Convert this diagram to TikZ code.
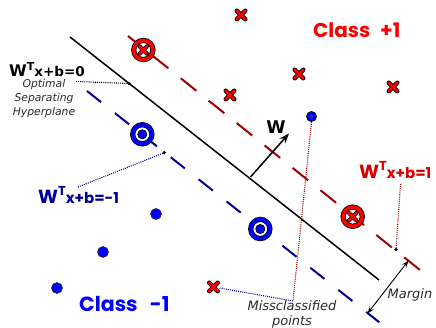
\documentclass[tikz,border=0pt]{standalone}
\usepackage{fontspec}
\setmainfont{DejaVu Sans}
\newfontfamily\comicfont{Poppins}
\usetikzlibrary{arrows.meta}
\definecolor{xred}{HTML}{FF0000}
\definecolor{dred}{HTML}{A00000}
\definecolor{xblue}{HTML}{0000FF}
\definecolor{dblue}{HTML}{000099}
\definecolor{txtgray}{HTML}{2A2A2A}
\tikzset{
  xmark/.pic={
    \draw[black,line width=4.4pt,line cap=round] (-4.3,-4.3)--(4.3,4.3) (-4.3,4.3)--(4.3,-4.3);
    \draw[xred,line width=2.8pt,line cap=round] (-4.3,-4.3)--(4.3,4.3) (-4.3,4.3)--(4.3,-4.3);
  },
  ringx/.pic={
    \draw[black,fill=white,line width=5.2pt] (0,0) circle (9.6);
    \draw[xred,line width=3.6pt] (0,0) circle (9.6);
    \draw[black,line width=4pt,line cap=round] (-3.8,-3.8)--(3.8,3.8) (-3.8,3.8)--(3.8,-3.8);
    \draw[xred,line width=2.6pt,line cap=round] (-3.8,-3.8)--(3.8,3.8) (-3.8,3.8)--(3.8,-3.8);
  },
  ringo/.pic={
    \draw[black,fill=white,line width=5.2pt] (0,0) circle (9.6);
    \draw[xblue,line width=3.6pt] (0,0) circle (9.6);
    \draw[black,fill=xblue,line width=0.7pt] (0,0) circle (4.6);
  },
  bdot/.style={circle,draw=black!80,line width=0.6pt,fill=xblue,inner sep=0pt,minimum size=11pt},
  sepline/.style={black,line width=1.5pt},
  redline/.style={dred,line width=2pt,dash pattern=on 20pt off 15.8pt,dash phase=4pt},
  blueline/.style={dblue,line width=2pt,dash pattern=on 18pt off 17.6pt},
  dotline/.style={line width=1.1pt,dash pattern=on 1pt off 1.1pt},
  enddot/.style={circle,fill=black,inner sep=0pt,minimum size=3.5pt},
  eqtext/.style={inner sep=0pt,font=\bfseries},
  itlabel/.style={inner sep=0pt,align=center,text=txtgray,font=\itshape},
}
\begin{document}
\begin{tikzpicture}[x=1pt,y=-1pt]
\useasboundingbox (0,0) rectangle (436,328);
% hyperplanes
\coordinate (s0) at (70,37);
\coordinate (e0) at (379,280);
\coordinate (sp) at (128,36);
\coordinate (ep) at (420,270);
\coordinate (sm) at (87,91);
\coordinate (em) at (379.3,322.3);
\draw[redline] (sp) -- (ep);
\draw[blueline] (sm) -- (em);
\draw[sepline] (s0) -- (e0);
% markers class +1
\pic at (241,15) {xmark};
\pic at (299,74) {xmark};
\pic at (393,87) {xmark};
\pic at (230,95) {xmark};
\pic at (213.5,287) {xmark};
\coordinate (mx) at (213.5,287);
\pic at (143.3,50) {ringx};
\pic at (352.7,216.7) {ringx};
% class -1
\pic at (142.3,134.3) {ringo};
\pic at (260.3,229) {ringo};
\node[bdot] (b1) at (156,214) {};
\node[bdot] (b2) at (103,252) {};
\node[bdot] (b3) at (57,288) {};
\node[circle,draw=black,line width=0.8pt,fill=xblue,inner sep=0pt,minimum size=10pt] (mb) at (311.5,116.5) {};
\node[circle,draw=black!70,line width=0.5pt,inner sep=0pt,minimum size=3pt] at (311.5,116.5) {};
% w arrow
\coordinate (wa) at (250.5,177);
\coordinate (wb) at (289,133.5);
\draw[black,line width=1.5pt,-{Stealth[length=10pt,width=7.5pt]}] (wa) -- (wb);
\node[eqtext,font=\fontsize{17.5}{17.5}\bfseries] (wlab) at (276,127) {W};
% margin arrow
\coordinate (ma) at (408.5,260.5);
\coordinate (mb2) at (367.5,313.5);
\draw[black,line width=0.9pt,{Stealth[length=7pt,width=5pt]}-{Stealth[length=7pt,width=5pt]}] (ma) -- (mb2);
\node[itlabel,anchor=west,font=\fontsize{13}{15}\itshape] (marg) at (387.5,295) {Margin};
% equation labels
\node[eqtext,anchor=base west] (eq0) at (9,77) {{\fontsize{16}{16}\selectfont W}{\fontsize{11}{11}\selectfont\raisebox{6pt}{T}}{\fontsize{13.5}{13.5}\selectfont x+b=0}};
\node[itlabel,font=\fontsize{10.8}{13.8}\itshape] (osh) at (44,98.5) {Optimal\\Separating\\Hyperplane};
\coordinate (h0) at (129,83.5);
\draw[black,dotline] (76,81.5) -- (h0);
\node[enddot] at (h0) {};

\node[eqtext,anchor=base west,text=dblue] (eqm) at (38,204) {{\comicfont\bfseries\fontsize{19}{19}\selectfont W}{\comicfont\bfseries\fontsize{13}{13}\selectfont\raisebox{8pt}{T}}{\comicfont\bfseries\fontsize{15}{15}\selectfont x+b=-1}};
\coordinate (hm) at (164.3,152.7);
\draw[dblue,dotline] (78,187) -- (hm);
\node[enddot] at (hm) {};

\node[eqtext,anchor=base west,text=xred!85!black] (eqp) at (359,179) {{\comicfont\bfseries\fontsize{19}{19}\selectfont W}{\comicfont\bfseries\fontsize{13}{13}\selectfont\raisebox{8pt}{T}}{\comicfont\bfseries\fontsize{15}{15}\selectfont x+b=1}};
\coordinate (hp) at (396,249.5);
\draw[dred,dotline] (400.5,184) -- (hp);
\node[enddot] at (hp) {};

% class labels
\node[inner sep=0pt,anchor=base west,text=xred] (cp) at (313,37.3) {\comicfont\bfseries\fontsize{20}{20}\selectfont Class\hspace{0.5em}+1};
\node[inner sep=0pt,anchor=base west,text=xblue] (cm) at (79,311.7) {\comicfont\bfseries\fontsize{20.5}{20.5}\selectfont Class\hspace{0.6em}-1};

% misclassified
\node[itlabel,font=\fontsize{13}{15}\itshape] (mis) at (292,314) {Missclassified\\points};
\coordinate (mc) at (293,301);
\draw[dred,dotline] (mb.south) -- (mc);
\draw[dblue,dotline] (mx) ++(6,1) -- (mc);
\end{tikzpicture}
\end{document}
